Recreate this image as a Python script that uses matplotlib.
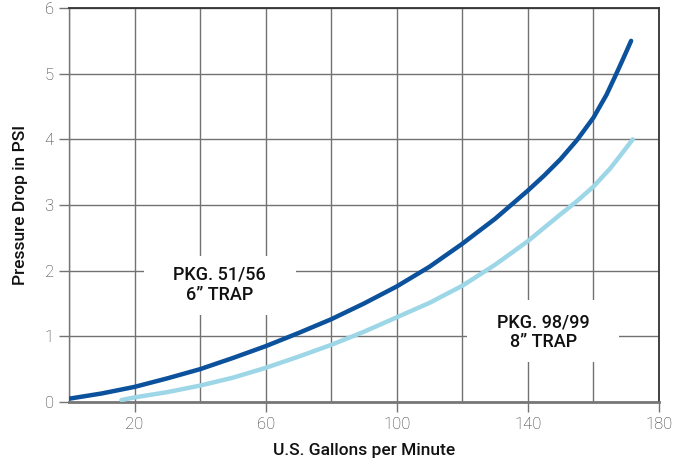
import matplotlib
matplotlib.use("Agg")
import matplotlib.pyplot as plt
from matplotlib.patches import Rectangle
from matplotlib.ticker import MultipleLocator

plt.rcParams['font.family'] = ['Roboto', 'DejaVu Sans']

# PKG. 51/56 - 6" trap
gpm_6in = [0, 10, 20, 30, 40, 50, 60, 70, 80, 90, 100, 110, 120, 130, 140,
           145, 150, 155, 160, 164, 167, 169, 171.5]
psi_6in = [0.05, 0.13, 0.23, 0.36, 0.50, 0.67, 0.85, 1.05, 1.26, 1.50, 1.76,
           2.06, 2.41, 2.79, 3.22, 3.45, 3.70, 3.99, 4.33, 4.68, 5.00, 5.22, 5.50]

# PKG. 98/99 - 8" trap
gpm_8in = [16, 20, 30, 40, 50, 60, 70, 80, 90, 100, 110, 120, 130, 140,
           150, 155, 160, 165, 168, 172]
psi_8in = [0.03, 0.07, 0.15, 0.25, 0.37, 0.52, 0.69, 0.87, 1.07, 1.29, 1.51,
           1.77, 2.09, 2.45, 2.86, 3.06, 3.28, 3.55, 3.74, 4.00]

x_ticks = [20, 60, 100, 140, 180]
y_ticks = [0, 1, 2, 3, 4, 5, 6]

dark_blue = '#0b519c'
light_blue = '#9dd7e7'
grid_gray = '#727272'

fig = plt.figure(figsize=(6.77, 4.65), dpi=100)
ax = fig.add_axes([0.1019, 0.1355, 0.8715, 0.8473])

ax.set_xlim(0, 180)
ax.set_ylim(0, 6)
ax.set_xticks(x_ticks)
ax.set_yticks(y_ticks)
ax.xaxis.set_minor_locator(MultipleLocator(20))
ax.set_axisbelow(True)
ax.grid(which='both', color=grid_gray, lw=1.0)
ax.tick_params(which='minor', length=0)
ax.tick_params(which='major', length=7, width=1, color=grid_gray,
               labelsize=12, labelcolor='#333333', pad=4)
for lbl in ax.get_xticklabels() + ax.get_yticklabels():
    lbl.set_fontweight('light')

ax.spines['bottom'].set_color('#777777')
ax.spines['bottom'].set_linewidth(2)
ax.spines['left'].set_color('#777777')
ax.spines['left'].set_linewidth(1)
for side in ('top', 'right'):
    ax.spines[side].set_color('#333333')
    ax.spines[side].set_linewidth(1.3)

ax.plot(gpm_8in, psi_8in, color=light_blue, lw=3.2, solid_capstyle='round',
        solid_joinstyle='round', zorder=3)
ax.plot(gpm_6in, psi_6in, color=dark_blue, lw=3.2, solid_capstyle='round',
        solid_joinstyle='round', zorder=4)

# white boxes behind the labels hide the grid
ax.add_patch(Rectangle((22.9, 1.33), 46.3, 0.9, facecolor='white',
                       edgecolor='none', zorder=2))
ax.add_patch(Rectangle((121.3, 0.61), 46.6, 0.95, facecolor='white',
                       edgecolor='none', zorder=2))

ax.text(46, 1.79, 'PKG. 51/56\n6\u201d TRAP', ha='center', va='center',
        fontsize=13, fontweight='medium', color='#111111', linespacing=1.15, zorder=5)
ax.text(144.8, 1.06, 'PKG. 98/99\n8\u201d TRAP', ha='center', va='center',
        fontsize=13, fontweight='medium', color='#111111', linespacing=1.15, zorder=5)

ax.set_xlabel('U.S. Gallons per Minute', fontsize=12.5, fontweight='medium',
              color='#111111', labelpad=8)
ax.set_ylabel('Pressure Drop in PSI', fontsize=12.5, fontweight='medium',
              color='#111111', labelpad=12)

fig.savefig('out.png', dpi=100)
